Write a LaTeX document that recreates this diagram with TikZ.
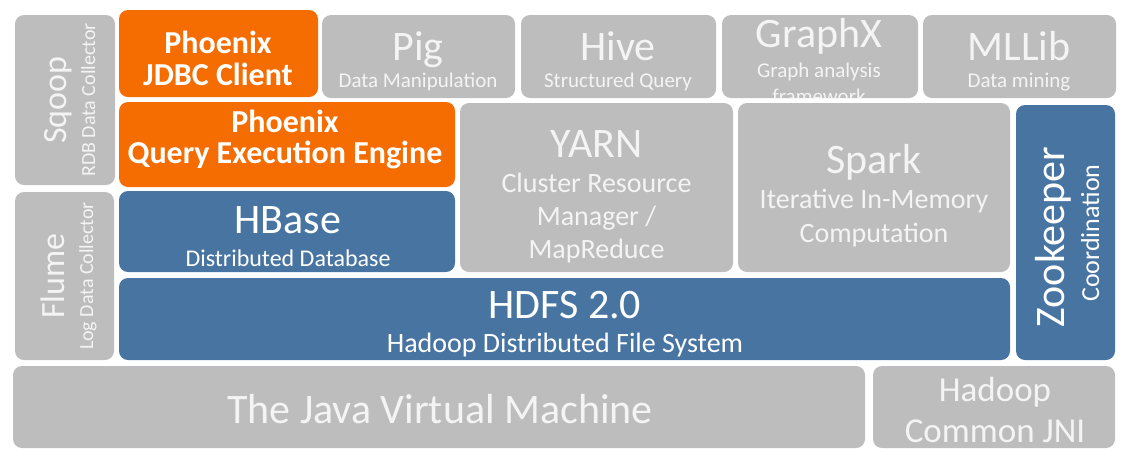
\documentclass[tikz,border=0pt]{standalone}
\usepackage{fontspec}
\setmainfont{Carlito}
\usetikzlibrary{positioning}

\definecolor{boxgrey}{HTML}{BDBDBD}
\definecolor{greytext}{HTML}{F4F4F4}
\definecolor{hdpblue}{HTML}{4874A2}
\definecolor{phxorange}{HTML}{F56C00}

\newcommand\namefont{\fontsize{42}{44}\selectfont}
\newcommand\notefont{\fontsize{21}{23}\selectfont}
\newcommand\midfont{\fontsize{28}{30}\selectfont}
\newcommand\phxfont{\fontsize{32}{34}\selectfont\bfseries}
\newcommand\sidefont{\fontsize{34}{36}\selectfont}
\newcommand\sidenote{\fontsize{20}{22}\selectfont}

\begin{document}
\begin{tikzpicture}[x=1pt,y=-1pt,
  block/.style={rounded corners=9pt,inner sep=0pt,outer sep=0pt},
  greybox/.style={block,fill=boxgrey},
  bluebox/.style={block,fill=hdpblue},
  orangebox/.style={block,fill=phxorange},
  lbl/.style={anchor=base,inner sep=0pt,text=white},
  greylbl/.style={lbl,text=greytext}]
  \useasboundingbox (0,0) rectangle (1132,459);

  % the layers
  \node[greybox,minimum width=100pt,minimum height=170pt] (sqoop) at (65,100) {};
  \node[greybox,minimum width=99pt,minimum height=168pt] (flume) at (64.5,276) {};
  \node[orangebox,minimum width=199pt,minimum height=87pt] (jdbc) at (218.5,53.5) {};
  \node[greybox,minimum width=193pt,minimum height=83pt] (pig) at (418.5,56.5) {};
  \node[greybox,minimum width=195pt,minimum height=83pt] (hive) at (618.5,56.5) {};
  \node[greybox,minimum width=196pt,minimum height=83pt] (graphx) at (820,56.5) {};
  \node[greybox,minimum width=193pt,minimum height=83pt] (mllib) at (1019.5,56.5) {};
  \node[orangebox,minimum width=336pt,minimum height=85pt] (qengine) at (287,144.5) {};
  \node[greybox,minimum width=273pt,minimum height=169pt] (yarn) at (596.5,187.5) {};
  \node[greybox,minimum width=272pt,minimum height=169pt] (spark) at (874,187.5) {};
  \node[bluebox,minimum width=99pt,minimum height=255pt] (zookeeper) at (1065.5,232.5) {};
  \node[bluebox,minimum width=336pt,minimum height=81pt] (hbase) at (287,231.5) {};
  \node[bluebox,minimum width=891pt,minimum height=82pt] (hdfs) at (564.5,319) {};
  \node[greybox,minimum width=852pt,minimum height=82pt] (jvm) at (439,407) {};
  \node[greybox,minimum width=242pt,minimum height=82pt] (jni) at (994,407) {};

  % side collectors, turned on their side
  \node[greylbl,rotate=90,font=\sidefont] (sqoop-name) at (66,100) {Sqoop};
  \node[greylbl,rotate=90,font=\sidenote] (sqoop-note) at (95,100) {RDB Data Collector};
  \node[greylbl,rotate=90,font=\sidefont] (flume-name) at (64,276) {Flume};
  \node[greylbl,rotate=90,font=\sidenote] (flume-note) at (93,276) {Log Data Collector};
  \node[lbl,rotate=90,font=\namefont] (zookeeper-name) at (1064,237) {Zookeeper};
  \node[lbl,rotate=90,font=\fontsize{26}{28}\selectfont] (zookeeper-note) at (1099,233) {Coordination};

  % top row
  \node[lbl,font=\phxfont] (jdbc-name) at (218,53) {Phoenix};
  \node[lbl,font=\phxfont] (jdbc-note) at (218,85) {JDBC Client};
  \node[greylbl,font=\namefont] (pig-name) at (418,60) {Pig};
  \node[greylbl,font=\notefont] (pig-note) at (418,87) {Data Manipulation};
  \node[greylbl,font=\namefont] (hive-name) at (618,60) {Hive};
  \node[greylbl,font=\notefont] (hive-note) at (618,87) {Structured Query};
  \node[greylbl,font=\namefont] (graphx-name) at (819,47) {GraphX};
  \node[greylbl,font=\notefont] (graphx-note) at (819,77) {Graph analysis};
  \begin{scope}
    \clip[rounded corners=9pt] (graphx.north west) rectangle (graphx.south east);
    \node[greylbl,font=\notefont] (graphx-more) at (819,103) {framework};
  \end{scope}
  \node[greylbl,font=\namefont] (mllib-name) at (1019,60) {MLLib};
  \node[greylbl,font=\notefont] (mllib-note) at (1019,87) {Data mining};

  % middle rows
  \node[lbl,font=\phxfont] (qengine-name) at (285,132) {Phoenix};
  \node[lbl,font=\phxfont] (qengine-note) at (285,163) {Query Execution Engine};
  \node[greylbl,font=\namefont] (yarn-name) at (596.5,157) {YARN};
  \node[greylbl,font=\midfont] (yarn-line1) at (596.5,192) {Cluster Resource};
  \node[greylbl,font=\midfont] (yarn-line2) at (596.5,225) {Manager /};
  \node[greylbl,font=\midfont] (yarn-line3) at (596.5,258) {MapReduce};
  \node[greylbl,font=\namefont] (spark-name) at (874,173) {Spark};
  \node[greylbl,font=\midfont] (spark-line1) at (874,208) {Iterative In-Memory};
  \node[greylbl,font=\midfont] (spark-line2) at (874,242) {Computation};
  \node[lbl,font=\namefont] (hbase-name) at (288,233) {HBase};
  \node[lbl,font=\fontsize{24}{26}\selectfont] (hbase-note) at (288,266) {Distributed Database};
  \node[lbl,font=\namefont] (hdfs-name) at (565,318) {HDFS 2.0};
  \node[lbl,font=\midfont] (hdfs-note) at (565,352) {Hadoop Distributed File System};

  % bottom row
  \node[greylbl,font=\namefont] (jvm-name) at (440,423) {The Java Virtual Machine};
  \node[greylbl,font=\fontsize{35}{37}\selectfont] (jni-name) at (995,401) {Hadoop};
  \node[greylbl,font=\fontsize{35}{37}\selectfont] (jni-note) at (995,442) {Common JNI};
\end{tikzpicture}
\end{document}
